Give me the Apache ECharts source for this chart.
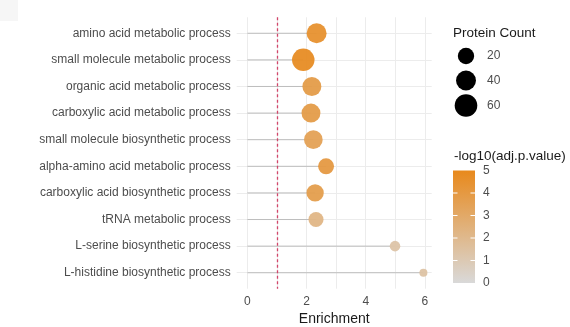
<!DOCTYPE html>
<html>
<head>
<meta charset="utf-8">
<script src="https://cdn.jsdelivr.net/npm/echarts@6/dist/echarts.min.js"></script>
<style>
  html, body { margin: 0; padding: 0; background: #ffffff; }
  #chart { width: 570px; height: 327px; }
</style>
</head>
<body>
<div id="chart"></div>
<script>
// GO terms, top to bottom
const categories = [
  'amino acid metabolic process',
  'small molecule metabolic process',
  'organic acid metabolic process',
  'carboxylic acid metabolic process',
  'small molecule biosynthetic process',
  'alpha-amino acid metabolic process',
  'carboxylic acid biosynthetic process',
  'tRNA metabolic process',
  'L-serine biosynthetic process',
  'L-histidine biosynthetic process'
];
const enrichment   = [2.34, 1.89, 2.18, 2.15, 2.23, 2.66, 2.29, 2.32, 4.99, 5.95];
const proteinCount = [46, 66, 39, 39, 37, 22, 29, 18, 5, 3];
const negLog10P    = [4.5, 4.8, 3.8, 3.8, 3.5, 4.0, 3.7, 2.2, 1.3, 1.4];

const xTicks = [0, 2, 4, 6];
const xGrid = [0, 1, 2, 3, 4, 5, 6];
const enrichmentThreshold = 1;
const sizeBreaks = [20, 40, 60];
const colorBreaks = [0, 1, 2, 3, 4, 5];

const FONT = '"Liberation Sans", Arial, sans-serif';
const LOW_COLOR = '#d9d9d9';
const HIGH_COLOR = '#e8891c';
const COLOR_MIN = 0, COLOR_MAX = 5;

// area-style size scale between the smallest and largest count
const countMin = Math.min(...proteinCount);
const countMax = Math.max(...proteinCount);
function dotSize(c) {
  const t = Math.max(0, (c - countMin) / (countMax - countMin));
  return 8 + 14.5 * Math.sqrt(t);
}

const rowIndex = categories.map((_, i) => i);
const segmentData = categories.map((_, i) => [enrichment[i], i]);
const pointData = categories.map((_, i) => [enrichment[i], i, negLog10P[i], proteinCount[i]]);

// legends
const graphics = [];
graphics.push({ type: 'rect', shape: { x: 0, y: 0, width: 18, height: 21 }, style: { fill: '#f6f6f6' }, silent: true });

graphics.push({
  type: 'text', left: 453, top: 26.5,
  style: { text: 'Protein Count', font: '13.5px ' + FONT, fill: '#1a1a1a' }
});
const sizeRowY = [56, 80.5, 105.5];
sizeBreaks.forEach((b, k) => {
  graphics.push({
    type: 'circle',
    shape: { cx: 466, cy: sizeRowY[k], r: dotSize(b) / 2 + 0.4 },
    style: { fill: '#000000' }
  });
  graphics.push({
    type: 'text', x: 487, y: sizeRowY[k],
    style: { text: String(b), font: '12px ' + FONT, fill: '#4d4d4d', verticalAlign: 'middle', align: 'left' }
  });
});

graphics.push({
  type: 'text', left: 454, top: 149.5,
  style: { text: '-log10(adj.p.value)', font: '13.5px ' + FONT, fill: '#1a1a1a' }
});
const barX = 453, barW = 22, barTop = 170.5, barBottom = 283;
const barY = v => barBottom - (v - COLOR_MIN) / (COLOR_MAX - COLOR_MIN) * (barBottom - barTop);
graphics.push({
  type: 'rect',
  shape: { x: barX, y: barTop, width: barW, height: barBottom - barTop },
  style: {
    fill: new echarts.graphic.LinearGradient(0, 0, 0, 1, [
      { offset: 0, color: HIGH_COLOR },
      { offset: 1, color: LOW_COLOR }
    ])
  }
});
colorBreaks.forEach(b => {
  const y = barY(b);
  if (b > COLOR_MIN && b < COLOR_MAX) {
    graphics.push({ type: 'line', shape: { x1: barX, y1: y, x2: barX + 4.5, y2: y }, style: { stroke: '#ffffff', lineWidth: 1 } });
    graphics.push({ type: 'line', shape: { x1: barX + barW - 4.5, y1: y, x2: barX + barW, y2: y }, style: { stroke: '#ffffff', lineWidth: 1 } });
  }
  graphics.push({
    type: 'text', x: 483, y: y,
    style: { text: String(b), font: '12px ' + FONT, fill: '#4d4d4d', verticalAlign: 'middle', align: 'left' }
  });
});

const chart = echarts.init(document.getElementById('chart'), null, { renderer: 'canvas' });
chart.setOption({
  backgroundColor: '#ffffff',
  animation: false,
  textStyle: { fontFamily: FONT },
  grid: { left: 236.7, right: 138.3, top: 17.3, bottom: 38.3, containLabel: false, outerBoundsMode: 'none' },
  xAxis: {
    type: 'value',
    min: -0.36, max: 6.23,
    axisLine: { show: false },
    axisTick: { show: false, customValues: xGrid },
    axisLabel: { customValues: xTicks, color: '#4d4d4d', fontSize: 12, margin: 7, fontFamily: FONT },
    splitLine: { show: true, lineStyle: { color: '#ececec', width: 1 } },
    name: 'Enrichment',
    nameLocation: 'middle',
    nameGap: 17,
    nameTextStyle: { color: '#1a1a1a', fontSize: 14, fontFamily: FONT }
  },
  yAxis: {
    type: 'value',
    inverse: true,
    min: -0.6, max: 9.6,
    axisLine: { show: false },
    axisTick: { show: false, customValues: rowIndex },
    axisLabel: {
      customValues: rowIndex,
      formatter: v => categories[Math.round(v)] || '',
      color: '#4d4d4d', fontSize: 12, margin: 6, fontFamily: FONT
    },
    splitLine: { show: true, lineStyle: { color: '#ececec', width: 1 } }
  },
  visualMap: {
    show: false,
    type: 'continuous',
    min: COLOR_MIN, max: COLOR_MAX,
    dimension: 2,
    seriesIndex: 1,
    inRange: { color: [LOW_COLOR, HIGH_COLOR] }
  },
  series: [
    {
      type: 'custom',
      name: 'segments',
      data: segmentData,
      encode: { x: 0, y: 1 },
      silent: true,
      z: 2,
      renderItem: (params, api) => {
        const a = api.coord([0, api.value(1)]);
        const b = api.coord([api.value(0), api.value(1)]);
        return {
          type: 'line',
          shape: { x1: a[0], y1: a[1], x2: b[0], y2: b[1] },
          style: { stroke: '#bdbdbd', lineWidth: 1 }
        };
      }
    },
    {
      type: 'scatter',
      name: 'terms',
      data: pointData,
      symbolSize: v => dotSize(v[3]),
      itemStyle: { opacity: 0.95 },
      z: 3,
      markLine: {
        silent: true,
        symbol: 'none',
        label: { show: false },
        lineStyle: { color: '#d2466a', type: [3, 2.5], width: 1.3, opacity: 1 },
        data: [{ xAxis: enrichmentThreshold }]
      }
    }
  ],
  graphic: graphics
});
</script>
</body>
</html>
